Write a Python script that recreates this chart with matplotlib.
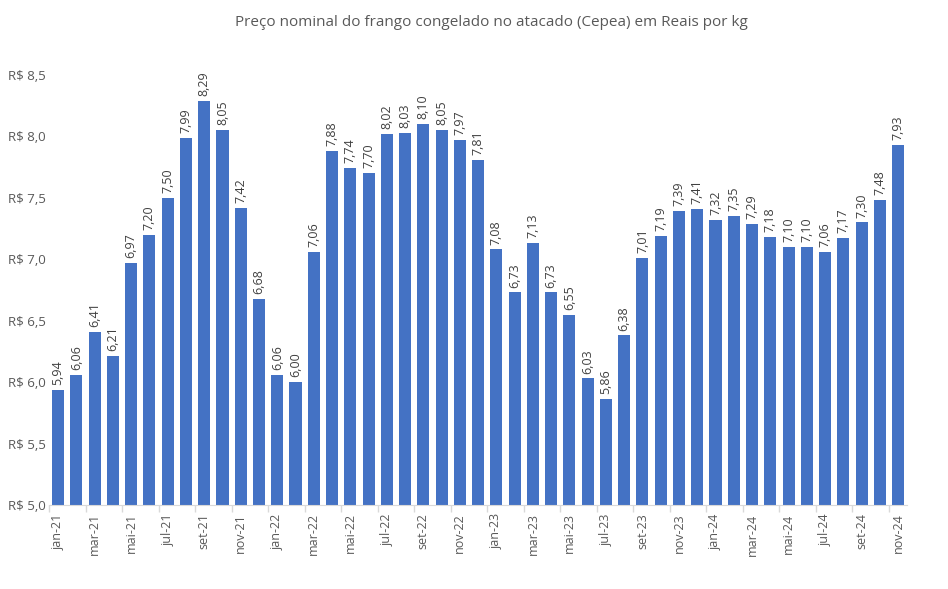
import numpy as np
import matplotlib
matplotlib.use('Agg')
import matplotlib.pyplot as plt
from matplotlib.ticker import FuncFormatter

# precos mensais jan-21 .. nov-24
meses = ['jan', 'fev', 'mar', 'abr', 'mai', 'jun', 'jul', 'ago', 'set', 'out', 'nov', 'dez']
anos = ['21', '22', '23', '24']
precos = [5.94, 6.06, 6.41, 6.21, 6.97, 7.20, 7.50, 7.99, 8.29, 8.05, 7.42, 6.68,
          6.06, 6.00, 7.06, 7.88, 7.74, 7.70, 8.02, 8.03, 8.10, 8.05, 7.97, 7.81,
          7.08, 6.73, 7.13, 6.73, 6.55, 6.03, 5.86, 6.38, 7.01, 7.19, 7.39, 7.41,
          7.32, 7.35, 7.29, 7.18, 7.10, 7.10, 7.06, 7.17, 7.30, 7.48, 7.93]
rotulos = [m + '-' + a for a in anos for m in meses][:len(precos)]

plt.rcParams['font.family'] = ['Open Sans', 'DejaVu Sans']
cor_texto = '#595959'

fig = plt.figure(figsize=(9.48, 5.89), dpi=100)
ax = fig.add_axes([0.0517, 0.1426, 0.9053, 0.7301])

x = np.arange(len(precos))
ax.bar(x, precos, width=0.66, color='#4472C4', bottom=0)

for i, v in enumerate(precos):
    ax.text(i, v + 0.04, ('%.2f' % v).replace('.', ','), rotation=90,
            ha='center', va='bottom', fontsize=9, color='#404040')

ax.set_ylim(5.0, 8.5)
ax.set_xlim(-0.5, len(precos) - 0.5)
ax.set_yticks(np.arange(5.0, 8.51, 0.5))
ax.yaxis.set_major_formatter(FuncFormatter(lambda v, p: ('R$ %.1f' % v).replace('.', ',')))

ax.set_xticks(x[::2])
ax.set_xticklabels(rotulos[::2], rotation=90)
ax.set_xticks(np.arange(-0.5, len(precos) - 1, 2), minor=True)
ax.tick_params(axis='x', which='major', length=0, pad=6, labelsize=9, labelcolor=cor_texto)
ax.tick_params(axis='x', which='minor', length=5, color='#D9D9D9', width=1)
ax.tick_params(axis='y', length=0, pad=2.5, labelsize=9.5, labelcolor=cor_texto)

for s in ['top', 'right', 'left']:
    ax.spines[s].set_visible(False)
ax.spines['bottom'].set_color('#D9D9D9')

fig.text(0.518, 0.962, 'Preço nominal do frango congelado no atacado (Cepea) em Reais por kg',
         ha='center', va='center', fontsize=11, color=cor_texto)

fig.savefig('out.png', dpi=100)
